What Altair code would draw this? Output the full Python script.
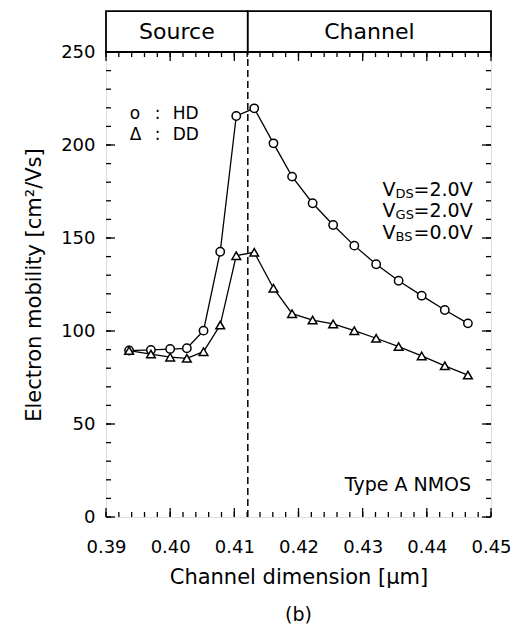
import altair as alt
import pandas as pd

# ---- data ----
x_pos = [0.3936, 0.3970, 0.4000, 0.4026, 0.4052, 0.4078, 0.4103, 0.4131, 0.4161,
         0.4190, 0.4222, 0.4254, 0.4287, 0.4321, 0.4356, 0.4392, 0.4428, 0.4464]
hd_mobility = [89.5, 89.8, 90.3, 90.7, 100.2, 142.6, 215.6, 219.7, 200.9,
               183.0, 168.7, 157.0, 145.9, 135.9, 127.0, 119.0, 111.3, 104.1]
dd_mobility = [89.5, 87.6, 85.9, 85.3, 88.9, 103.2, 140.5, 142.3, 123.0,
               109.3, 105.9, 103.8, 100.2, 96.1, 91.6, 86.6, 81.3, 76.3]

X_TICK_LABELS = [0.39, 0.40, 0.41, 0.42, 0.43, 0.44, 0.45]
Y_TICK_LABELS = [0, 50, 100, 150, 200, 250]
X_MINOR = [round(0.39 + 0.002 * i, 3) for i in range(31)]
Y_MINOR = list(range(0, 251, 10))

regions = ["Source", "Channel"]
region_start = [0.39, 0.4121]
region_end = [0.4121, 0.45]
boundary = 0.4121
header_bottom, header_top = 250, 272

legend_symbols = ["o", "Δ"]
legend_labels = ["HD", "DD"]
legend_y = [216.7, 205.4]

bias_subs = ["DS", "GS", "BS"]
bias_vals = ["=2.0V", "=2.0V", "=0.0V"]
bias_y = [175.8, 164.5, 152.7]
bias_x = 0.4331

device_label = "Type A NMOS"

# ---- layout / style ----
W, H = 385, 465
FONT = "DejaVu Sans"
MAJ, MIN = 9, 5

xs = alt.Scale(domain=[0.39, 0.45], nice=False, zero=False)
ys = alt.Scale(domain=[0, 250], nice=False, zero=True)

x_axis = alt.Axis(values=X_TICK_LABELS, format=".2f", title="Channel dimension [µm]",
                  ticks=False, tickSize=0, domain=False, grid=False,
                  labelFont=FONT, labelFontSize=18, labelPadding=21, labelColor="black",
                  labelFlush=False, labelOverlap=False,
                  titleFont=FONT, titleFontSize=21, titleFontWeight="normal",
                  titlePadding=10, titleColor="black")
y_axis = alt.Axis(values=Y_TICK_LABELS, format="d", title="Electron mobility [cm²/Vs]",
                  ticks=False, tickSize=0, domain=False, grid=False,
                  labelFont=FONT, labelFontSize=18, labelPadding=11, labelColor="black",
                  labelFlush=False, labelOverlap=False,
                  titleFont=FONT, titleFontSize=21, titleFontWeight="normal",
                  titlePadding=16, titleColor="black")


def X(f):
    return alt.X(f, type="quantitative", scale=xs, axis=x_axis)


def Y(f):
    return alt.Y(f, type="quantitative", scale=ys, axis=y_axis)


n = len(x_pos)
df = pd.DataFrame({"x": x_pos * 2, "mu": hd_mobility + dd_mobility,
                   "model": ["HD"] * n + ["DD"] * n,
                   "order": list(range(n)) * 2})

lines = alt.Chart(df).mark_line(color="black", strokeWidth=1.3).encode(
    x=X("x"), y=Y("mu"), detail="model:N", order="order:Q")
hd_pts = alt.Chart(df).transform_filter(alt.datum.model == "HD").mark_point(
    shape="circle", size=70, filled=True, fill="white", stroke="black", strokeWidth=1.5,
    opacity=1).encode(x=X("x"), y=Y("mu"))
dd_pts = alt.Chart(df).transform_filter(alt.datum.model == "DD").mark_point(
    shape="triangle-up", size=75, filled=True, fill="white", stroke="black", strokeWidth=1.5,
    opacity=1).encode(x=X("x"), y=Y("mu"))

# boundary dashed line
bdf = pd.DataFrame({"x": [boundary], "y0": [0], "y1": [header_bottom]})
bline = alt.Chart(bdf).mark_rule(color="black", strokeWidth=1.5, strokeDash=[7, 4]).encode(
    x=X("x"), y=Y("y0"), y2="y1")

# header boxes
hdf = pd.DataFrame({"region": regions, "x0": region_start, "x1": region_end,
                    "y0": [header_bottom] * 2, "y1": [header_top] * 2})
hdf["xm"] = (hdf["x0"] + hdf["x1"]) / 2
hdf["ym"] = (hdf["y0"] + hdf["y1"]) / 2
hbox = alt.Chart(hdf).mark_rect(fill="white", stroke="black", strokeWidth=1.8).encode(
    x=X("x0"), x2="x1", y=Y("y0"), y2="y1")
htext = alt.Chart(hdf).mark_text(font=FONT, fontSize=22, color="black", baseline="middle",
                                 align="center").encode(x=X("xm"), y=Y("ym"), text="region:N")

# inward ticks
ymin = pd.DataFrame({"v": Y_MINOR})
ymaj = pd.DataFrame({"v": Y_TICK_LABELS})
xmin = pd.DataFrame({"v": X_MINOR})
xmaj = pd.DataFrame({"v": X_TICK_LABELS})
tick_style = dict(color="black", strokeWidth=1.3)
ticks = [
    alt.Chart(ymin).mark_rule(**tick_style).encode(y=Y("v"), x=alt.value(0), x2=alt.value(MIN)),
    alt.Chart(ymaj).mark_rule(**tick_style).encode(y=Y("v"), x=alt.value(0), x2=alt.value(MAJ)),
    alt.Chart(ymin).mark_rule(**tick_style).encode(y=Y("v"), x=alt.value(W), x2=alt.value(W - MIN)),
    alt.Chart(ymaj).mark_rule(**tick_style).encode(y=Y("v"), x=alt.value(W), x2=alt.value(W - MAJ)),
    alt.Chart(xmin).mark_rule(**tick_style).encode(x=X("v"), y=alt.value(H), y2=alt.value(H - MIN)),
    alt.Chart(xmaj).mark_rule(**tick_style).encode(x=X("v"), y=alt.value(H), y2=alt.value(H - MAJ)),
    alt.Chart(xmin).mark_rule(**tick_style).encode(x=X("v"), y=alt.value(0), y2=alt.value(MIN)),
    alt.Chart(xmaj).mark_rule(**tick_style).encode(x=X("v"), y=alt.value(0), y2=alt.value(MAJ)),
]

# legend text
ldf = pd.DataFrame({"sym": legend_symbols, "lab": legend_labels, "y": legend_y,
                    "xs": [0.3937] * 2, "xc": [0.3976] * 2, "xl": [0.4004] * 2,
                    "colon": [":"] * 2})
ltxt = dict(font=FONT, fontSize=17, color="black", baseline="middle", align="left")
leg = [
    alt.Chart(ldf).mark_text(**ltxt).encode(x=X("xs"), y=Y("y"), text="sym:N"),
    alt.Chart(ldf).mark_text(**ltxt).encode(x=X("xc"), y=Y("y"), text="colon:N"),
    alt.Chart(ldf).mark_text(**ltxt).encode(x=X("xl"), y=Y("y"), text="lab:N"),
]

# bias annotations
vdf = pd.DataFrame({"sub": bias_subs, "val": bias_vals, "y": bias_y,
                    "x": [bias_x] * 3, "V": ["V"] * 3})
bias = [
    alt.Chart(vdf).mark_text(font=FONT, fontSize=19, color="black", baseline="middle",
                             align="left").encode(x=X("x"), y=Y("y"), text="V:N"),
    alt.Chart(vdf).mark_text(font=FONT, fontSize=13, color="black", baseline="middle",
                             align="left", dx=13, dy=4).encode(x=X("x"), y=Y("y"), text="sub:N"),
    alt.Chart(vdf).mark_text(font=FONT, fontSize=19, color="black", baseline="middle",
                             align="left", dx=31).encode(x=X("x"), y=Y("y"), text="val:N"),
]

tdf = pd.DataFrame({"t": [device_label], "x": [0.4469], "y": [17.2]})
dev = alt.Chart(tdf).mark_text(font=FONT, fontSize=19, color="black", baseline="middle",
                               align="right").encode(x=X("x"), y=Y("y"), text="t:N")

chart = alt.layer(
    bline, hbox, htext, *ticks, lines, hd_pts, dd_pts, *leg, *bias, dev
).properties(
    width=W, height=H,
    title=alt.TitleParams("(b)", orient="bottom", font=FONT, fontSize=19,
                          fontWeight="normal", color="black", offset=19, anchor="middle"),
    autosize=alt.AutoSizeParams(type="none"),
    padding={"left": 98, "top": 44, "right": 20, "bottom": 110},
).configure_view(stroke="black", strokeWidth=1.8).configure(background="white")

chart.save("out.html", embed_options={"renderer": "svg", "actions": False})
